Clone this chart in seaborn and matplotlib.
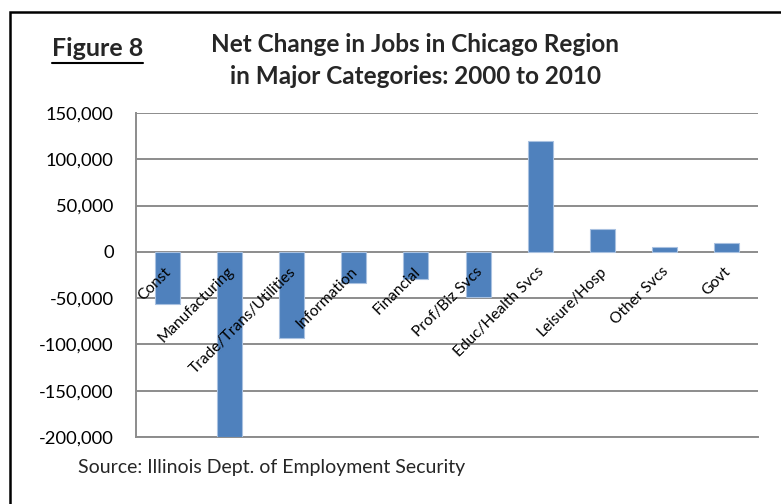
import matplotlib
matplotlib.use("Agg")
import matplotlib.pyplot as plt
from matplotlib.lines import Line2D
from matplotlib.patches import Rectangle
from matplotlib.ticker import FuncFormatter
import seaborn as sns
import pandas as pd

categories = ["Const", "Manufacturing", "Trade/Trans/Utilities", "Information",
              "Financial", "Prof/Biz Svcs", "Educ/Health Svcs", "Leisure/Hosp",
              "Other Svcs", "Govt"]
net_change = [-56000, -200000, -93000, -34000, -29000, -49000,
              120000, 25000, 5000, 10000]
y_ticks = [-200000, -150000, -100000, -50000, 0, 50000, 100000, 150000]

sns.set_theme(style="white")
plt.rcParams["font.family"] = ["Lato", "DejaVu Sans"]

W, H = 781, 504
fig = plt.figure(figsize=(W / 100, H / 100), dpi=100)
ax = fig.add_axes([136 / W, 1 - 437 / H, (758 - 136) / W, (437 - 113) / H])

df = pd.DataFrame({"category": categories, "change": net_change})
sns.barplot(data=df, x="category", y="change", order=categories, width=0.4,
            color="#4F81BD", saturation=1, edgecolor="#A9C1E0", linewidth=0.8,
            ax=ax, zorder=3)

ax.set_ylim(-200000, 150000)
ax.set_xlim(-0.5, len(categories) - 0.5)
ax.set_yticks(y_ticks)
ax.yaxis.set_major_formatter(FuncFormatter(lambda v, p: f"{int(v):,}"))
ax.tick_params(axis="y", length=0, pad=16, labelsize=13.2, colors="black")
ax.set_xticks([])
ax.set_xlabel("")
ax.set_ylabel("")
ax.grid(axis="y", color="#8C8C8C", linewidth=1.4, zorder=0)
ax.set_axisbelow(True)
for side in ["top", "right"]:
    ax.spines[side].set_visible(False)
for side in ["left", "bottom"]:
    ax.spines[side].set_color("#8C8C8C")
    ax.spines[side].set_linewidth(1.4)

# Category names sit inside the plot, slanted, ending just under the zero line
for i, name in enumerate(categories):
    ax.text(i + 0.03, -19000, name, rotation=45, ha="right", va="center",
            rotation_mode="anchor", fontsize=11.2, color="black", zorder=4)

# Titles and source note
fig.text(415 / W, 1 - 45 / H, "Net Change in Jobs in Chicago Region",
         ha="center", va="center", fontsize=17.5, fontweight="bold")
fig.text(415 / W, 1 - 77 / H, "in Major Categories: 2000 to 2010",
         ha="center", va="center", fontsize=17.5, fontweight="bold")
fig_label = fig.text(52 / W, 1 - 49 / H, "Figure 8", ha="left", va="center",
                     fontsize=18, fontweight="bold")
fig.text(78 / W, 1 - 467 / H, "Source: Illinois Dept. of Employment Security",
         ha="left", va="center", fontsize=14)

# Underline for the figure label
fig.canvas.draw()
bb = fig_label.get_window_extent()
uy = 1 - 63 / H
fig.add_artist(Line2D([bb.x0 / W, bb.x1 / W], [uy, uy], color="black",
                      linewidth=1.5, transform=fig.transFigure))

# Outer frame around the whole figure block
fig.add_artist(Rectangle((10 / W, -0.2), 1.2, 1 - 12 / H + 0.2,
                         transform=fig.transFigure, fill=False,
                         edgecolor="black", linewidth=1.8))

fig.savefig("out.png", dpi=100)
